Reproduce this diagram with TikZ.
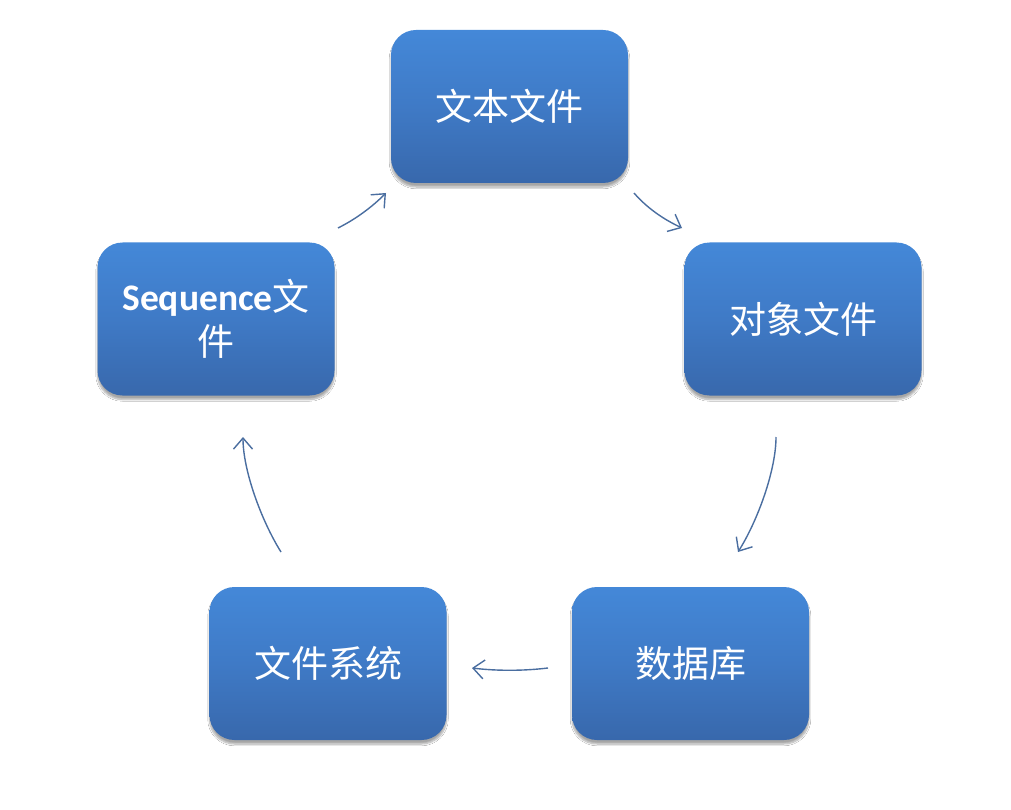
\documentclass[tikz,border=0pt]{standalone}
\usepackage{fontspec}
\newfontfamily\cjk{Noto Sans CJK SC}
\newfontfamily\lat{Carlito}
\usetikzlibrary{arrows.meta,shadows.blur}
\definecolor{boxtop}{RGB}{68,136,216}
\definecolor{boxmid}{RGB}{63,122,198}
\definecolor{boxbot}{RGB}{56,104,172}
\definecolor{arr}{RGB}{74,110,160}
\tikzset{
  box/.style={rounded corners=25pt, minimum width=237pt, minimum height=153pt,
    top color=boxtop, bottom color=boxbot, middle color=boxmid,
    text=white, align=center, inner sep=0pt,
    font=\cjk\fontsize{37}{45}\selectfont,
    blur shadow={shadow xshift=0pt, shadow yshift=-4pt, shadow blur steps=8, shadow opacity=35}},
  conn/.style={draw=arr, line width=1.4pt, -{Straight Barb[length=11pt,width=19pt,line width=1.4pt]}}
}
\begin{document}
\begin{tikzpicture}[x=1pt,y=-1pt]
\useasboundingbox[fill=white] (0,0) rectangle (1011,810);
\node[box] (txt) at (509.5,106.5) {文本文件};
\node[box] (obj) at (803,319) {对象文件};
\node[box] (db) at (690.5,663.5) {数据库};
\node[box] (fs) at (328,663.5) {文件系统};
\node[box] (seq) at (216,319) {{\lat\bfseries\fontsize{37.5}{45}\selectfont Sequence}文\\件};
\coordinate (a1s) at (338,228); \coordinate (a1e) at (386,193);
\coordinate (a2s) at (634,193); \coordinate (a2e) at (682,228);
\coordinate (a3s) at (776,437); \coordinate (a3e) at (738,552);
\coordinate (a4s) at (548,668); \coordinate (a4e) at (472,668);
\coordinate (a5s) at (281,552); \coordinate (a5e) at (243,437);
\draw[conn] (a1s) .. controls (356,219) and (372,207) .. (a1e);
\draw[conn] (a2s) .. controls (647,208) and (663,219) .. (a2e);
\draw[conn] (a3s) .. controls (776,470) and (758,520) .. (a3e);
\draw[conn] (a4s) .. controls (523,671) and (497,671) .. (a4e);
\draw[conn] (a5s) .. controls (261,520) and (243,470) .. (a5e);
\end{tikzpicture}
\end{document}
